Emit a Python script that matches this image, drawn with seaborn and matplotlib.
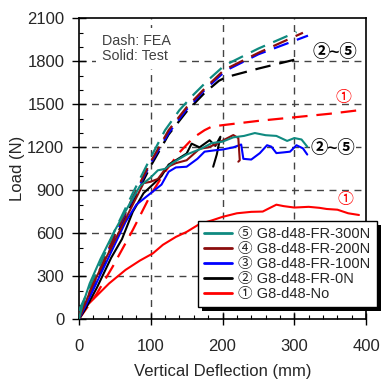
import numpy as np
import pandas as pd
import matplotlib
matplotlib.use("Agg")
import matplotlib.pyplot as plt
import seaborn as sns
from matplotlib.ticker import MultipleLocator
from matplotlib.patches import Rectangle
from matplotlib.transforms import IdentityTransform

# ---------------- data ----------------
labels = ["⑤ G8-d48-FR-300N", "④ G8-d48-FR-200N", "③ G8-d48-FR-100N",
          "② G8-d48-FR-0N", "① G8-d48-No"]
colors = ["#0f8a80", "#8b0d0d", "#0000ff", "#000000", "#ff0000"]

# Test (solid)
test_300_x = [0, 5, 15, 30, 50, 70, 85, 100, 110, 120, 130, 150, 170, 185, 200, 215, 230, 245, 260, 275, 290, 300, 310, 318]
test_300_y = [0, 100, 250, 420, 620, 800, 930, 990, 1040, 1050, 1090, 1150, 1190, 1230, 1240, 1270, 1280, 1300, 1285, 1280, 1245, 1265, 1255, 1205]
test_200_x = [0, 8, 20, 40, 60, 75, 90, 100, 110, 122, 135, 150, 168, 180, 192, 205, 215, 222, 224, 222]
test_200_y = [0, 100, 250, 450, 650, 800, 950, 960, 980, 1060, 1090, 1110, 1190, 1200, 1225, 1260, 1286, 1265, 1110, 1100]
test_100_x = [0, 10, 25, 45, 65, 80, 95, 105, 115, 125, 135, 150, 165, 175, 190, 200, 215, 226, 229, 240, 252, 262, 268, 275, 285, 294, 303, 312, 318]
test_100_y = [0, 100, 260, 470, 680, 800, 860, 900, 940, 1030, 1060, 1065, 1120, 1170, 1180, 1185, 1200, 1220, 1120, 1115, 1160, 1215, 1205, 1160, 1165, 1170, 1215, 1193, 1150]
test_0_x = [0, 10, 25, 45, 60, 75, 90, 105, 115, 125, 135, 150, 157, 168, 182, 190, 197, 192, 187]
test_0_y = [0, 80, 220, 430, 560, 750, 880, 950, 1000, 1080, 1110, 1157, 1226, 1200, 1250, 1210, 1274, 1150, 1065]
test_no_x = [0, 3, 12, 24, 42, 65, 85, 103, 117, 135, 150, 168, 185, 200, 220, 240, 256, 265, 275, 285, 300, 320, 335, 345, 360, 375, 390]
test_no_y = [0, 40, 100, 160, 250, 345, 410, 460, 520, 575, 610, 665, 690, 715, 740, 750, 752, 775, 800, 790, 780, 785, 778, 770, 765, 740, 728]

# FEA (dashed)
fea_300_x = [0, 25, 50, 75, 100, 120, 140, 160, 180, 200, 210, 250, 303]
fea_300_y = [60, 330, 620, 880, 1130, 1320, 1460, 1570, 1670, 1760, 1790, 1890, 2005]
fea_200_x = [0, 25, 50, 75, 100, 125, 150, 175, 200, 210, 250, 312]
fea_200_y = [30, 300, 590, 850, 1100, 1320, 1480, 1610, 1730, 1760, 1860, 2000]
fea_100_x = [0, 25, 50, 75, 100, 125, 150, 175, 200, 210, 250, 319]
fea_100_y = [20, 290, 580, 840, 1090, 1300, 1465, 1600, 1715, 1750, 1850, 1980]
fea_0_x = [0, 25, 50, 75, 100, 125, 150, 175, 195, 205, 250, 302]
fea_0_y = [0, 270, 560, 820, 1070, 1290, 1450, 1580, 1665, 1690, 1750, 1814]
fea_no_x = [0, 25, 47, 75, 100, 120, 140, 160, 175, 185, 200, 250, 300, 350, 396]
fea_no_y = [0, 180, 367, 623, 870, 1030, 1165, 1270, 1320, 1345, 1355, 1385, 1410, 1435, 1463]

x_ticks = [0, 100, 200, 300, 400]
y_ticks = [0, 300, 600, 900, 1200, 1500, 1800, 2100]

tests = [(test_300_x, test_300_y), (test_200_x, test_200_y), (test_100_x, test_100_y),
         (test_0_x, test_0_y), (test_no_x, test_no_y)]
feas = [(fea_300_x, fea_300_y), (fea_200_x, fea_200_y), (fea_100_x, fea_100_y),
        (fea_0_x, fea_0_y), (fea_no_x, fea_no_y)]

# ---------------- plot ----------------
sns.set_theme(style="white")
plt.rcParams["font.family"] = ["Liberation Sans", "Noto Sans CJK JP", "DejaVu Sans"]

fig = plt.figure(figsize=(3.83, 3.84), dpi=100)
ax = fig.add_axes([0.206, 0.1685, 0.750, 0.7835])

# grid
for gx in [100, 200, 300]:
    ax.axvline(gx, color="#444444", lw=1.0, ls=(0, (5, 4)), zorder=0)
for gy in [300, 600, 900, 1200, 1500, 1800]:
    ax.axhline(gy, color="#444444", lw=1.0, ls=(0, (5, 4)), zorder=0)

order = [4, 3, 2, 1, 0]
for i in order:
    fx, fy = feas[i]
    df = pd.DataFrame({"x": fx, "y": fy})
    sns.lineplot(data=df, x="x", y="y", ax=ax, sort=False, estimator=None,
                 color=colors[i], lw=1.6, zorder=3)
    ax.lines[-1].set_linestyle((0, (7, 4)))

handles = {}
for i in order:
    tx, ty = tests[i]
    df = pd.DataFrame({"x": tx, "y": ty})
    sns.lineplot(data=df, x="x", y="y", ax=ax, sort=False, estimator=None,
                 color=colors[i], lw=1.5, zorder=4)
    handles[i] = ax.lines[-1]

ax.set_xlim(0, 400)
ax.set_ylim(0, 2100)
ax.set_xticks(x_ticks)
ax.set_yticks(y_ticks)
ax.xaxis.set_minor_locator(MultipleLocator(20))
ax.yaxis.set_minor_locator(MultipleLocator(100))
ax.tick_params(which="both", bottom=True, left=True, top=False, right=False, color="black")
ax.tick_params(which="major", direction="inout", width=1.0, labelsize=12)
ax.tick_params(axis="x", which="major", length=8, pad=10.5)
ax.tick_params(axis="y", which="major", length=10, pad=5.5)
ax.tick_params(which="minor", direction="in", length=3, width=0.8)
for s in ax.spines.values():
    s.set_color("black")
    s.set_linewidth(1.2)

ax.set_xlabel("Vertical Deflection (mm)", fontsize=12, labelpad=7)
ax.set_ylabel("Load (N)", fontsize=12, labelpad=1.5)

ax.text(32, 1890, "Dash: FEA\nSolid: Test", fontsize=10.3, color="#404040", va="center", ha="left",
        linespacing=1.15, zorder=2,
        bbox=dict(facecolor="white", edgecolor="none", pad=4))

ax.text(357, 1870, "②~⑤", fontsize=12.5, fontweight="bold", color="black", ha="center", va="center")
ax.text(354, 1200, "②~⑤", fontsize=12.5, fontweight="bold", color="black", ha="center", va="center",
        bbox=dict(facecolor="white", edgecolor="none", pad=0.3))
ax.text(369, 1549, "①", fontsize=11.5, color="#ff0000", ha="center", va="center")
ax.text(371, 838, "①", fontsize=11.5, color="#ff0000", ha="center", va="center")

leg = ax.legend([handles[i] for i in range(5)], labels, loc="upper left",
                bbox_to_anchor=(0.518, 0.425), bbox_transform=fig.transFigure,
                fontsize=10.5, frameon=True, fancybox=False, shadow=False,
                edgecolor="black", framealpha=1, handlelength=1.9, handletextpad=0.45,
                labelspacing=0.08, borderpad=0.4, borderaxespad=0)
leg.get_frame().set_linewidth(1.0)
leg.set_zorder(10)
for line in leg.get_lines():
    line.set_linewidth(2.0)

# legend drop shadow
fig.canvas.draw()
bb = leg.get_frame().get_window_extent()
shadow = Rectangle((bb.x0 + 4, bb.y0 - 4), bb.width, bb.height, transform=IdentityTransform(),
                   facecolor="black", edgecolor="none", zorder=9, clip_on=False)
ax.add_patch(shadow)

fig.savefig("out.png", dpi=100)
